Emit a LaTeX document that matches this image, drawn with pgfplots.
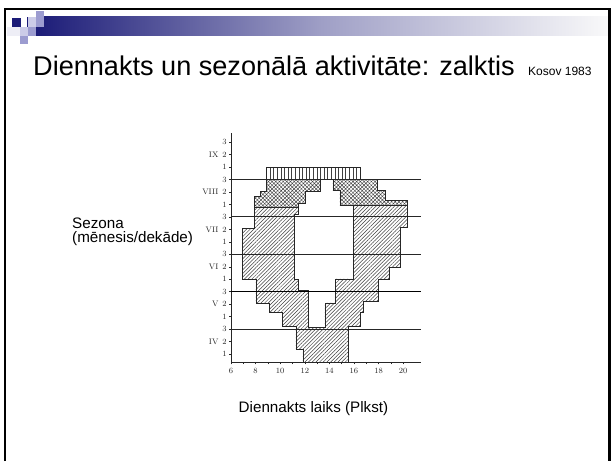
\documentclass[border=0pt]{standalone}
\usepackage{pgfplots}
\pgfplotsset{compat=1.18}
\usetikzlibrary{patterns.meta}
\usepackage{fontspec}
\newfontfamily\arial{Liberation Sans}
\definecolor{bnavy}{RGB}{28,28,120}
\definecolor{lavA}{RGB}{204,204,232}
\definecolor{lavB}{RGB}{156,156,208}
\definecolor{lavC}{RGB}{238,238,246}
\newcommand{\mo}[1]{\makebox[0pt][r]{#1\hspace{4pt}}}
\begin{document}
\begin{tikzpicture}
\useasboundingbox (0,0) rectangle (611pt,461pt);
\fill[white] (0,0) rectangle (611pt,461pt);
\begin{scope}[x=1pt,y=-1pt,yshift=461pt]
  % header gradient bar
  \shade[left color=bnavy, right color=white!96!gray, middle color=bnavy!42!white] (36,16.7) rectangle (611,35.7);
  % decorative squares
  \fill[lavC] (7,26.7) rectangle (20,35.7);
  \fill[bnavy] (12,18) rectangle (21,27);
  \fill[bnavy] (26.7,16.7) rectangle (28.3,26.7);
  \fill[lavA] (28.3,16.7) rectangle (36,26.7);
  \fill[lavB] (36,11) rectangle (44.3,26.7);
  \fill[lavA] (20,26.7) rectangle (28.3,35.7);
  \fill[lavB] (28.3,26.7) rectangle (36,35.7);
  \fill[lavB] (20,35.7) rectangle (28.3,44.3);
  % frame
  \draw[line width=2.3pt] (5,461) -- (5,8.7) -- (611,8.7);
  \draw[line width=2.3pt] (609.5,8.7) -- (609.5,461);
  % texts
  \node[anchor=base west, inner sep=0, font=\arial\fontsize{27.1}{30}\selectfont] at (33,76) {Diennakts un sezonālā aktivitāte: zalktis};
  \node[anchor=base west, inner sep=0, font=\arial\fontsize{12}{14}\selectfont] at (528,76) {Kosov 1983};
  \node[anchor=base west, inner sep=0, font=\arial\fontsize{15.2}{17}\selectfont] at (72,229) {Sezona};
  \node[anchor=base west, inner sep=0, font=\arial\fontsize{15.2}{17}\selectfont] at (72,243) {(mēnesis/dekāde)};
  \node[anchor=base, inner sep=0, font=\arial\fontsize{15.2}{17}\selectfont] at (313.5,412.5) {Diennakts laiks (Plkst)};
\end{scope}
\begin{axis}[
  at={(231pt,98.3pt)}, anchor=south west,
  scale only axis, width=190pt, height=229.3pt,
  xmin=6, xmax=21.45, ymin=0.3, ymax=18.7,
  axis lines*=left,
  axis line style={line width=0.7pt, black!85},
  xtick={6,8,...,20}, minor xtick={7,9,...,19},
  ytick={1,...,18},
  yticklabels={1,{\mo{IV}2},3,1,{\mo{V}2},3,1,{\mo{VI}2},3,1,{\mo{VII}2},3,1,{\mo{VIII}2},3,1,{\mo{IX}2},3},
  tick label style={font=\fontsize{8}{9}\selectfont, black!85},
  yticklabel style={xshift=1pt},
  tick style={black!85, line width=0.4pt},
  tick align=outside,
  major tick length=1.8pt, minor tick length=1.5pt,
  clip=false,
]
% diagonal hatched region
\addplot[draw=black!85, line width=0.6pt, pattern={Lines[angle=45,distance=2.6pt,line width=0.5pt]}, pattern color=black!75]
 coordinates {(7.89,12.8) (11.5,12.8) (11.5,12.21) (11.15,12.21) (11.15,7.0) (11.45,7.0) (11.45,6.1) (12.26,6.1) (12.26,3.15) (13.64,3.15) (13.64,5.1) (14.46,5.1) (14.46,7.03) (15.96,7.03) (15.96,12.9) (20.35,12.9) (20.35,11.15) (19.78,11.15) (19.78,7.97) (18.85,7.97) (18.85,7.03) (17.95,7.03) (17.95,5.23) (16.73,5.23) (16.73,4.31) (16.49,4.31) (16.49,3.2) (15.51,3.2) (15.51,0.3) (11.85,0.3) (11.85,1.41) (11.28,1.41) (11.28,3.2) (10.15,3.2) (10.15,4.38) (9.09,4.38) (9.09,5.08) (8.03,5.08) (8.03,7.03) (6.92,7.03) (6.92,11.1) (7.89,11.1) (7.89,12.8)};
% crosshatched regions
\addplot[draw=black!85, line width=0.6pt, pattern={Hatch[angle=45,distance=2.6pt,line width=0.45pt]}, pattern color=black!75]
 coordinates {(8.85,15) (13.24,15) (13.24,14.05) (12.02,14.05) (12.02,13.13) (11.5,13.13) (11.5,12.8) (7.89,12.8) (7.89,13.64) (8.41,13.64) (8.41,14.05) (8.85,14.05) (8.85,15)};
\addplot[draw=black!85, line width=0.6pt, pattern={Hatch[angle=45,distance=2.6pt,line width=0.45pt]}, pattern color=black!75]
 coordinates {(14.29,15) (17.87,15) (17.87,14.15) (18.52,14.15) (18.52,13.31) (20.35,13.31) (20.35,12.9) (14.86,12.9) (14.86,14.1) (14.29,14.1) (14.29,15)};
% vertical-line band
\addplot[draw=black!85, line width=0.6pt, pattern={Lines[angle=90,distance=3.6pt,line width=0.5pt]}, pattern color=black!75]
 coordinates {(8.85,15) (16.49,15) (16.49,16.0) (8.85,16.0) (8.85,15)};
% month boundary lines
\addplot[black!85, line width=1pt] coordinates {(6,3) (21.45,3)};
\addplot[black, line width=1pt] coordinates {(6,6) (21.45,6)};
\addplot[black!85, line width=1pt] coordinates {(6,9) (21.45,9)};
\addplot[black!85, line width=1pt] coordinates {(6,12) (21.45,12)};
\addplot[black!85, line width=1pt] coordinates {(6,15) (21.45,15)};
\end{axis}
\end{tikzpicture}
\end{document}
